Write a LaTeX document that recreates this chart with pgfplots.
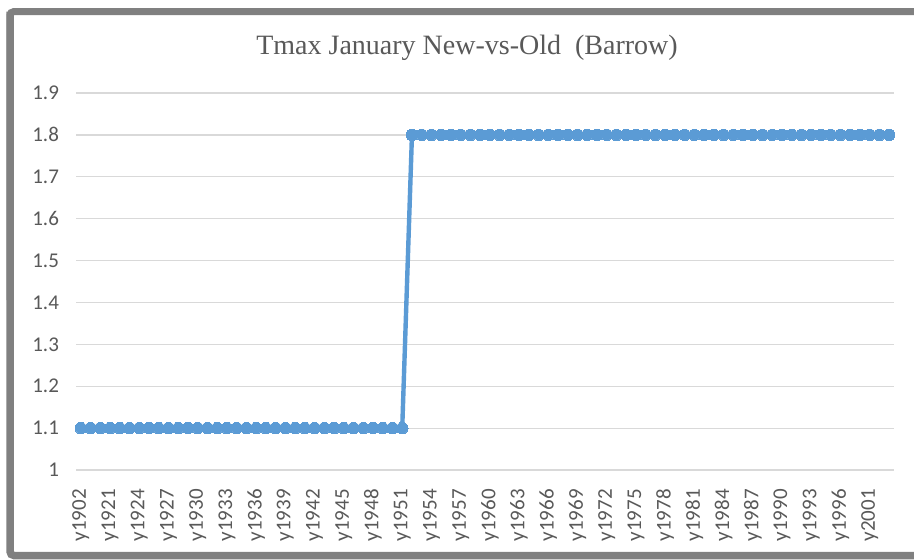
\documentclass[border=0pt]{standalone}
\usepackage{pgfplots}
\pgfplotsset{compat=1.18}
\usepackage{fontspec}
\setmainfont{Carlito}
\newfontfamily\titlefont{Liberation Serif}
\definecolor{exblue}{HTML}{5B9BD5}
\definecolor{exgrid}{HTML}{D9D9D9}
\definecolor{extext}{HTML}{595959}
\definecolor{exframe}{HTML}{808080}
\begin{document}
\begin{tikzpicture}
\begin{scope}[x=0.5pt,y=-0.5pt]
\useasboundingbox (0,0) rectangle (914,559);
\fill[white] (0,0) rectangle (914,559);
\draw[exframe, line width=3.75pt, rounded corners=2pt] (10,11.5) -- (10,555.5) -- (1000,555.5);
\draw[exframe, line width=3.5pt, rounded corners=2pt] (10,300) -- (10,11.5) -- (1000,11.5);
\node[font=\titlefont\fontsize{14}{16}\selectfont, text=extext] at (467,48) {Tmax January New-vs-Old\ \ (Barrow)};
\end{scope}
\begin{axis}[
  at={(38pt,-235pt)}, anchor=south west,
  scale only axis, width=409pt, height=188.5pt,
  xmin=-0.5, xmax=83.5, ymin=1, ymax=1.9,
  axis line style={draw=none},
  ymajorgrids, major grid style={exgrid, line width=0.6pt},
  ytick={1,1.1,1.2,1.3,1.4,1.5,1.6,1.7,1.8,1.9},
  yticklabels={1,1.1,1.2,1.3,1.4,1.5,1.6,1.7,1.8,1.9},
  xtick={0,3,...,81},
  xticklabels={y1902,y1921,y1924,y1927,y1930,y1933,y1936,y1939,y1942,y1945,y1948,y1951,y1954,y1957,y1960,y1963,y1966,y1969,y1972,y1975,y1978,y1981,y1984,y1987,y1990,y1993,y1996,y2001},
  x tick label style={rotate=90, anchor=east, font=\fontsize{10.5}{12}\selectfont, text=extext},
  y tick label style={font=\fontsize{10.5}{12}\selectfont, text=extext},
  xticklabel shift=6pt, yticklabel shift=5pt,
  major tick length=0pt,
  clip=false,
]
\addplot[exblue, line width=2.2pt, mark=*, mark size=2.9pt, mark options={fill=exblue, draw=exblue, line width=0pt}] coordinates {
(0,1.1)(1,1.1)(2,1.1)(3,1.1)(4,1.1)(5,1.1)(6,1.1)(7,1.1)(8,1.1)(9,1.1)
(10,1.1)(11,1.1)(12,1.1)(13,1.1)(14,1.1)(15,1.1)(16,1.1)(17,1.1)(18,1.1)(19,1.1)
(20,1.1)(21,1.1)(22,1.1)(23,1.1)(24,1.1)(25,1.1)(26,1.1)(27,1.1)(28,1.1)(29,1.1)
(30,1.1)(31,1.1)(32,1.1)(33,1.1)
(34,1.8)(35,1.8)(36,1.8)(37,1.8)(38,1.8)(39,1.8)
(40,1.8)(41,1.8)(42,1.8)(43,1.8)(44,1.8)(45,1.8)(46,1.8)(47,1.8)(48,1.8)(49,1.8)
(50,1.8)(51,1.8)(52,1.8)(53,1.8)(54,1.8)(55,1.8)(56,1.8)(57,1.8)(58,1.8)(59,1.8)
(60,1.8)(61,1.8)(62,1.8)(63,1.8)(64,1.8)(65,1.8)(66,1.8)(67,1.8)(68,1.8)(69,1.8)
(70,1.8)(71,1.8)(72,1.8)(73,1.8)(74,1.8)(75,1.8)(76,1.8)(77,1.8)(78,1.8)(79,1.8)
(80,1.8)(81,1.8)(82,1.8)(83,1.8)
};
\end{axis}
\end{tikzpicture}
\end{document}
